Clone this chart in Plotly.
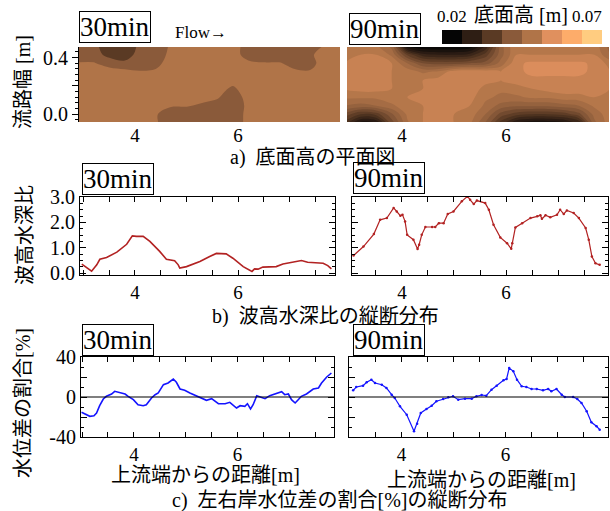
import plotly.graph_objects as go

W, H = 610, 511
SERIF = "Liberation Serif, Times New Roman, Noto Sans CJK JP, serif"

# ---------------- data ----------------
map_x = [2.9, 3.2, 3.5, 3.8, 4.1, 4.4, 4.7, 5.0, 5.3, 5.6, 5.9, 6.2, 6.5, 6.8, 7.1, 7.4, 7.7, 8.0]
map_y = [-0.07, 0.0, 0.06, 0.12, 0.18, 0.24, 0.30, 0.36, 0.42, 0.48]

bed_30 = [
    [0.048, 0.048, 0.048, 0.048, 0.048, 0.046, 0.041, 0.041, 0.041, 0.041, 0.041, 0.047, 0.048, 0.048, 0.048, 0.048, 0.048, 0.048],
    [0.048, 0.048, 0.048, 0.048, 0.048, 0.0455, 0.042, 0.041, 0.041, 0.041, 0.041, 0.047, 0.048, 0.048, 0.048, 0.048, 0.048, 0.048],
    [0.048, 0.048, 0.048, 0.048, 0.048, 0.048, 0.0455, 0.0455, 0.044, 0.043, 0.041, 0.0465, 0.048, 0.048, 0.048, 0.048, 0.048, 0.048],
    [0.048, 0.048, 0.048, 0.048, 0.048, 0.048, 0.048, 0.048, 0.047, 0.0455, 0.042, 0.047, 0.048, 0.048, 0.048, 0.048, 0.048, 0.048],
    [0.048, 0.048, 0.048, 0.048, 0.048, 0.048, 0.048, 0.048, 0.048, 0.047, 0.044, 0.048, 0.048, 0.048, 0.048, 0.048, 0.048, 0.048],
    [0.048, 0.048, 0.048, 0.048, 0.048, 0.048, 0.048, 0.048, 0.048, 0.048, 0.047, 0.048, 0.048, 0.048, 0.048, 0.048, 0.048, 0.048],
    [0.048, 0.048, 0.048, 0.047, 0.0455, 0.046, 0.048, 0.048, 0.048, 0.048, 0.048, 0.048, 0.048, 0.048, 0.046, 0.0455, 0.048, 0.048],
    [0.0455, 0.0455, 0.042, 0.040, 0.041, 0.043, 0.048, 0.048, 0.048, 0.048, 0.048, 0.0465, 0.0455, 0.0455, 0.043, 0.043, 0.048, 0.048],
    [0.041, 0.041, 0.037, 0.036, 0.041, 0.041, 0.047, 0.048, 0.048, 0.048, 0.048, 0.042, 0.041, 0.041, 0.041, 0.044, 0.048, 0.048],
    [0.042, 0.040, 0.036, 0.035, 0.040, 0.041, 0.046, 0.048, 0.048, 0.048, 0.048, 0.042, 0.041, 0.041, 0.041, 0.041, 0.046, 0.048],
]

bed_90 = [
    [0.033, 0.025, 0.026, 0.038, 0.047, 0.050, 0.051, 0.050, 0.048, 0.042, 0.033, 0.026, 0.024, 0.024, 0.025, 0.029, 0.044, 0.049],
    [0.039, 0.035, 0.036, 0.042, 0.048, 0.050, 0.051, 0.050, 0.049, 0.045, 0.039, 0.036, 0.035, 0.035, 0.036, 0.039, 0.046, 0.049],
    [0.045, 0.044, 0.045, 0.047, 0.049, 0.050, 0.051, 0.051, 0.050, 0.047, 0.044, 0.043, 0.043, 0.043, 0.044, 0.045, 0.048, 0.050],
    [0.048, 0.048, 0.048, 0.049, 0.050, 0.051, 0.052, 0.052, 0.051, 0.048, 0.047, 0.047, 0.048, 0.048, 0.049, 0.049, 0.050, 0.050],
    [0.050, 0.051, 0.051, 0.050, 0.050, 0.050, 0.052, 0.052, 0.052, 0.049, 0.048, 0.049, 0.050, 0.051, 0.0515, 0.0515, 0.051, 0.050],
    [0.050, 0.052, 0.052, 0.050, 0.050, 0.050, 0.051, 0.052, 0.052, 0.051, 0.050, 0.051, 0.052, 0.052, 0.052, 0.052, 0.052, 0.050],
    [0.050, 0.052, 0.052, 0.050, 0.049, 0.047, 0.048, 0.0515, 0.052, 0.0515, 0.050, 0.052, 0.053, 0.053, 0.053, 0.053, 0.052, 0.050],
    [0.050, 0.0515, 0.0515, 0.050, 0.045, 0.040, 0.039, 0.039, 0.040, 0.041, 0.046, 0.052, 0.053, 0.053, 0.053, 0.053, 0.052, 0.049],
    [0.050, 0.050, 0.050, 0.047, 0.037, 0.031, 0.030, 0.030, 0.031, 0.036, 0.044, 0.050, 0.050, 0.050, 0.050, 0.050, 0.050, 0.045],
    [0.049, 0.049, 0.048, 0.044, 0.025, 0.022, 0.022, 0.022, 0.023, 0.030, 0.044, 0.050, 0.050, 0.050, 0.050, 0.050, 0.049, 0.044],
]

bed_levels = [0.02, 0.02625, 0.0325, 0.03875, 0.045, 0.05125, 0.0575, 0.06375, 0.07]
bed_colors = ['#050505', '#2e1e14', '#5a3a24', '#8a5a3a', '#b07448', '#e0905e', '#fdac6a', '#ffcc80']

ratio30_x = [2.97, 3.16, 3.26, 3.32, 3.45, 3.65, 3.84, 3.95, 4.03, 4.16, 4.29, 4.48, 4.61, 4.77, 4.84, 4.87,
             5.00, 5.26, 5.45, 5.58, 5.77, 5.90, 6.10, 6.27, 6.32, 6.39, 6.48, 6.74, 6.87, 7.06, 7.23, 7.35,
             7.65, 7.74, 7.81]
ratio30_y = [0.36, 0.08, 0.33, 0.55, 0.62, 0.83, 1.14, 1.47, 1.45, 1.45, 1.25, 0.86, 0.55, 0.49, 0.33, 0.20,
             0.26, 0.46, 0.66, 0.78, 0.76, 0.59, 0.26, 0.07, 0.17, 0.16, 0.24, 0.26, 0.36, 0.42, 0.50, 0.43,
             0.39, 0.30, 0.17]
ratio90_x = [3.07, 3.26, 3.46, 3.58, 3.71, 3.84, 3.90, 3.97, 4.01, 4.06, 4.10, 4.22, 4.30, 4.33, 4.38, 4.45,
             4.58, 4.64, 4.71, 4.80, 4.88, 4.99, 5.15, 5.26, 5.31, 5.38, 5.44, 5.60, 5.67, 5.76, 5.89, 6.02,
             6.10, 6.12, 6.18, 6.31, 6.47, 6.60, 6.66, 6.69, 6.76, 6.85, 6.98, 7.04, 7.11, 7.17, 7.30, 7.40,
             7.53, 7.59, 7.65, 7.72, 7.80]
ratio90_y = [0.70, 1.05, 1.54, 2.10, 2.17, 2.57, 2.43, 2.26, 2.30, 2.04, 1.51, 1.32, 0.95, 1.12, 1.51, 1.82,
             1.82, 1.82, 1.97, 1.97, 2.33, 2.43, 2.83, 3.03, 2.89, 2.72, 2.86, 2.76, 2.50, 1.91, 1.41, 1.18,
             0.96, 1.18, 1.80, 1.97, 2.17, 2.24, 2.28, 2.14, 2.28, 2.20, 2.30, 2.50, 2.33, 2.47, 2.37, 2.17,
             1.78, 1.32, 0.66, 0.39, 0.33]

diff30_x = [2.99, 3.07, 3.15, 3.23, 3.28, 3.34, 3.41, 3.47, 3.57, 3.63, 3.73, 3.83, 3.89, 3.99, 4.08, 4.18,
            4.24, 4.34, 4.41, 4.47, 4.57, 4.66, 4.76, 4.82, 4.89, 4.98, 5.08, 5.21, 5.31, 5.40, 5.50, 5.63,
            5.76, 5.85, 5.98, 6.05, 6.14, 6.19, 6.25, 6.30, 6.37, 6.46, 6.53, 6.62, 6.75, 6.85, 6.91, 6.98,
            7.04, 7.11, 7.17, 7.23, 7.33, 7.46, 7.56, 7.62, 7.72, 7.81]
diff30_y = [-15.3, -17.7, -19.3, -18.7, -16.0, -8.7, -2.0, 0.7, 3.0, 5.7, 4.7, 3.0, 0.7, -2.7, -7.7, -8.7,
            -7.7, -1.0, 2.3, 4.0, 12.3, 14.0, 18.0, 14.7, 8.0, 6.7, 4.0, 1.3, -1.0, -3.3, -1.7, -6.7,
            -6.7, -5.3, -11.0, -8.7, -9.3, -6.7, -12.0, -7.7, 1.3, 0.0, -1.7, 1.3, 4.0, 5.3, 2.3, 3.0,
            -2.7, -6.0, -2.7, 0.7, 3.0, 8.0, 9.0, 14.0, 20.0, 24.0]
diff90_x = [3.07, 3.13, 3.26, 3.33, 3.42, 3.49, 3.62, 3.71, 3.81, 3.87, 3.97, 4.10, 4.24, 4.30, 4.37, 4.48,
            4.58, 4.67, 4.80, 4.90, 4.99, 5.09, 5.22, 5.35, 5.44, 5.54, 5.63, 5.73, 5.83, 5.96, 6.02, 6.07,
            6.15, 6.22, 6.31, 6.40, 6.50, 6.60, 6.72, 6.82, 6.88, 6.98, 7.08, 7.14, 7.30, 7.38, 7.46, 7.56,
            7.65, 7.75, 7.81]
diff90_y = [6.7, 10.0, 11.3, 14.7, 17.3, 14.0, 12.3, 9.0, 2.3, -1.0, -9.3, -17.7, -34.3, -26.7, -16.0, -12.0,
            -8.7, -4.3, -2.0, -0.3, 0.7, -2.7, -1.7, -1.7, 0.7, 2.0, 1.3, 7.3, 11.3, 16.7, 18.0, 29.0,
            25.7, 17.3, 10.7, 10.0, 8.0, 8.0, 6.7, 8.0, 5.7, 8.0, 2.3, 0.0, 0.0, -2.0, -6.0, -14.3,
            -25.3, -29.3, -32.7]

# ---------------- helpers ----------------
def fx(px):
    return px / W

def fy(py):
    return 1 - py / H

n = len(bed_colors)
colorscale = [[0.0, bed_colors[0]]]
for i, c in enumerate(bed_colors):
    colorscale.append([(i + 0.5) / n, c])
colorscale.append([1.0, bed_colors[-1]])

fig = go.Figure()

bin_size = bed_levels[1] - bed_levels[0]
for z, ax, size in [(bed_30, '', bin_size), (bed_90, '2', 0.0025)]:
    fig.add_trace(go.Contour(
        x=map_x, y=map_y, z=z, xaxis='x' + ax, yaxis='y' + ax,
        colorscale=colorscale, zmin=bed_levels[0], zmax=bed_levels[-1], zauto=False,
        contours=dict(start=bed_levels[0], end=bed_levels[-1], size=size,
                      coloring='fill', showlines=False),
        line=dict(width=0, smoothing=1.0), showscale=False, hoverinfo='skip'))

centers = [(bed_levels[i] + bed_levels[i + 1]) / 2 for i in range(n)]
fig.add_trace(go.Heatmap(x=centers, y=[0], z=[centers], xaxis='x7', yaxis='y7',
                         colorscale=colorscale, zmin=bed_levels[0], zmax=bed_levels[-1],
                         showscale=False, hoverinfo='skip'))

red = 'rgb(178,34,34)'
blue = 'rgb(20,20,255)'
fig.add_trace(go.Scatter(x=ratio30_x, y=ratio30_y, mode='lines', line=dict(color=red, width=1.6),
                         xaxis='x3', yaxis='y3', showlegend=False))
fig.add_trace(go.Scatter(x=ratio90_x, y=ratio90_y, mode='lines+markers', line=dict(color=red, width=1.2),
                         marker=dict(size=2.5, color=red), xaxis='x4', yaxis='y4', showlegend=False))
fig.add_trace(go.Scatter(x=diff30_x, y=diff30_y, mode='lines', line=dict(color=blue, width=1.6),
                         xaxis='x5', yaxis='y5', showlegend=False))
fig.add_trace(go.Scatter(x=diff90_x, y=diff90_y, mode='lines+markers', line=dict(color=blue, width=1.2),
                         marker=dict(size=2.5, color=blue), xaxis='x6', yaxis='y6', showlegend=False))

tickfont = dict(family=SERIF, size=20, color='black')
xtickfont = dict(family=SERIF, size=19, color='black')

def xax(px0, px1, rng, anchor, framed):
    d = dict(domain=[fx(px0), fx(px1)], range=rng, anchor=anchor, showgrid=False, zeroline=False,
             tickfont=xtickfont, ticklabelstandoff=0, automargin=False)
    if framed:
        d.update(showline=True, linecolor='black', linewidth=1, mirror='allticks', ticks='inside',
                 ticklen=5, tickcolor='black', tickmode='array',
                 tickvals=[3.0, 3.5, 4.0, 4.5, 5.0, 5.5, 6.0, 6.5, 7.0, 7.5],
                 ticktext=['', '', '4', '', '', '', '6', '', '', ''])
    else:
        d.update(showline=False, ticks='', tickmode='array', tickvals=[4, 6], ticktext=['4', '6'])
    return d

def yax(py0, py1, rng, anchor, framed, vals, texts, minor_dt, labels=True, ticks_on=True):
    d = dict(domain=[fy(py1), fy(py0)], range=rng, anchor=anchor, showgrid=False, zeroline=False,
             tickfont=tickfont, tickmode='array', tickvals=vals, automargin=False,
             ticktext=texts if labels else [''] * len(vals))
    if framed:
        d.update(showline=True, linecolor='black', linewidth=1, mirror='allticks', ticks='inside',
                 ticklen=6, tickcolor='black',
                 minor=dict(dtick=minor_dt, tick0=0, ticks='inside', ticklen=3, tickcolor='black'))
    elif ticks_on:
        d.update(showline=True, linecolor='black', linewidth=1, ticks='outside', ticklen=6,
                 tickcolor='black',
                 minor=dict(dtick=minor_dt, tick0=0, ticks='outside', ticklen=3, tickcolor='black'))
    else:
        d.update(showline=False, ticks='')
    return d

layout = dict(
    width=W, height=H, autosize=False,
    margin=dict(l=0, r=0, t=0, b=0, pad=0, autoexpand=False),
    paper_bgcolor='white', plot_bgcolor='white', showlegend=False,
    font=dict(family=SERIF, color='black'),
    xaxis=xax(79, 340, [2.91, 7.98], 'y', False),
    yaxis=yax(47, 122, [-0.055, 0.475], 'x', False, [0.0, 0.2, 0.4], ['0.0', '', '0.4'], 0.04),
    xaxis2=xax(347, 609, [2.94, 7.98], 'y2', False),
    yaxis2=yax(47, 122, [-0.055, 0.475], 'x2', False, [0.0, 0.4], ['0.0', '0.4'], 0.04,
               labels=False, ticks_on=False),
    xaxis3=xax(80, 335, [2.935, 7.88], 'y3', True),
    yaxis3=yax(197, 275, [-0.07, 3.0], 'x3', True, [0, 1, 2, 3], ['0.0', '1.0', '2.0', '3.0'], 0.25),
    xaxis4=xax(352, 608, [3.04, 7.96], 'y4', True),
    yaxis4=yax(197, 275, [-0.07, 3.0], 'x4', True, [0, 1, 2, 3], ['0.0', '1.0', '2.0', '3.0'], 0.25,
               labels=False),
    xaxis5=xax(81, 334, [2.98, 7.86], 'y5', True),
    yaxis5=yax(357, 437, [-40, 40], 'x5', True, [-40, -20, 0, 20, 40], ['-40', '', '0', '', '40'], 10),
    xaxis6=xax(349, 608, [2.99, 7.97], 'y6', True),
    yaxis6=yax(357, 437, [-40, 40], 'x6', True, [-40, -20, 0, 20, 40], ['-40', '', '0', '', '40'], 10,
               labels=False),
    xaxis7=dict(domain=[fx(442), fx(602)], range=[bed_levels[0], bed_levels[-1]], anchor='y7',
                showticklabels=False, ticks='', showgrid=False, zeroline=False, showline=False),
    yaxis7=dict(domain=[fy(44), fy(30)], range=[-0.5, 0.5], anchor='x7',
                showticklabels=False, ticks='', showgrid=False, zeroline=False, showline=False),
)
fig.update_layout(**layout)

for ax in ['5', '6']:
    fig.add_shape(type='line', xref='x' + ax + ' domain', yref='y' + ax, x0=0, x1=1, y0=0, y1=0,
                  line=dict(color='black', width=1.2))

ann = []

def box(text, px, py_bottom):
    ann.append(dict(text=text, x=fx(px), y=fy(py_bottom), xref='paper', yref='paper',
                    xanchor='left', yanchor='bottom', showarrow=False,
                    font=dict(family=SERIF, size=27, color='black'),
                    bordercolor='black', borderwidth=1, borderpad=0, bgcolor='white'))

box('30min', 79, 43)
box('90min', 349, 45)
box('30min', 82, 195)
box('90min', 353, 194)
box('30min', 82, 356)
box('90min', 353, 356)

def txt(text, px, py, size, angle=0, xanchor='center', yanchor='middle'):
    a = dict(text=text, x=fx(px), y=fy(py), xref='paper', yref='paper',
             xanchor=xanchor, yanchor=yanchor, showarrow=False, textangle=angle,
             font=dict(family=SERIF, size=size, color='black'))
    if angle == 0:
        a['height'] = size + 2
    ann.append(a)

txt('Flow→', 201, 32, 17)
txt('0.02', 452, 28, 17, yanchor='bottom')
txt('底面高 [m]', 521, 28, 20, yanchor='bottom')
txt('0.07', 587, 28, 17, yanchor='bottom')
txt('a)  底面高の平面図', 313, 157, 20)
txt('b)  波高水深比の縦断分布', 325, 316, 20)
txt('c)  左右岸水位差の割合[%]の縦断分布', 340, 500, 20)
txt('上流端からの距離[m]', 205, 475, 20)
txt('上流端からの距離[m]', 482, 480, 20)
txt('流路幅 [m]', 23, 82, 20, angle=-90)
txt('波高水深比', 25, 235, 20, angle=-90)
txt('水位差の割合[%]', 23, 403, 20, angle=-90)

fig.update_layout(annotations=ann)
fig.write_html('out.html', config=dict(displayModeBar=False, responsive=False),
               post_script="document.body.style.margin='0';document.body.style.padding='0';"
                           "document.documentElement.style.overflow='hidden';")
